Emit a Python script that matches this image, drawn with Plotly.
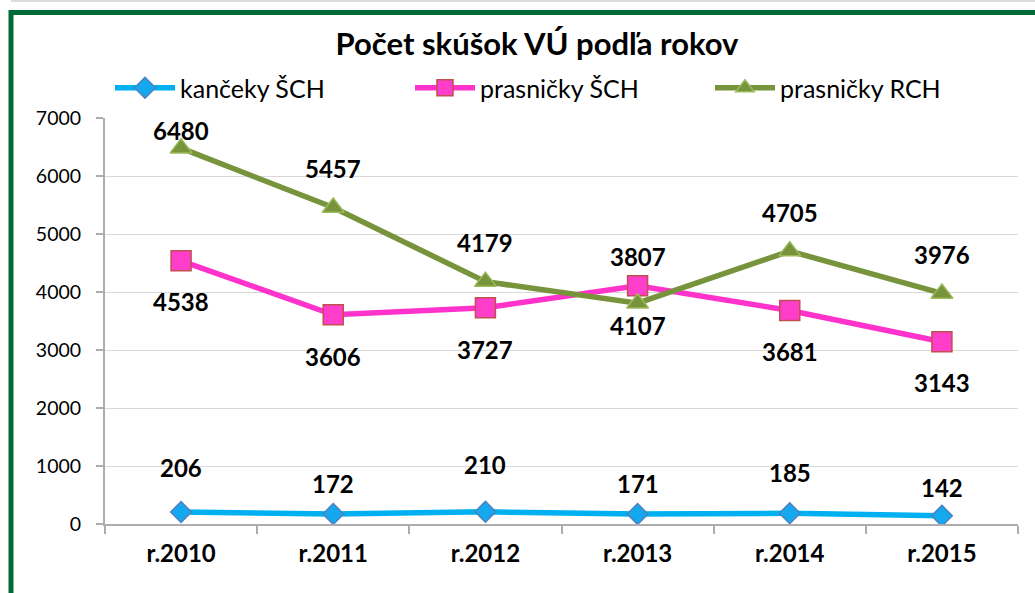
import plotly.graph_objects as go

# ---- data ----
categories = ["r.2010", "r.2011", "r.2012", "r.2013", "r.2014", "r.2015"]
kanceky_sch = [206, 172, 210, 171, 185, 142]
prasnicky_sch = [4538, 3606, 3727, 4107, 3681, 3143]
prasnicky_rch = [6480, 5457, 4179, 3807, 4705, 3976]
series_names = ["kančeky ŠCH", "prasničky ŠCH", "prasničky RCH"]
y_ticks = [0, 1000, 2000, 3000, 4000, 5000, 6000, 7000]
title_text = "Počet skúšok VÚ podľa rokov"

# ---- style ----
W, H = 1035, 593
L, R, T, B = 105, 17, 118, 69
FONT = "Lato"

label_shift_blue = [45, 31, 47, 31, 41, 28]
label_shift_green = [18, 39, 39, 47, 39, 39]
label_shift_pink = [-41, -42, -42, -40, -41, -41]

fig = go.Figure()

fig.add_trace(go.Scatter(
    x=categories, y=kanceky_sch, name=series_names[0], mode="lines+markers",
    line=dict(color="#00B0F0", width=5.5),
    marker=dict(symbol="diamond", size=16, color="#14A8EE",
                line=dict(color="#4F81BD", width=1.5)),
))
fig.add_trace(go.Scatter(
    x=categories, y=prasnicky_sch, name=series_names[1], mode="lines+markers",
    line=dict(color="#FF33CC", width=5.5),
    marker=dict(symbol="square", size=20, color="#FF3DCB",
                line=dict(color="#C0504D", width=1.5)),
))
fig.add_trace(go.Scatter(
    x=categories, y=prasnicky_rch, name=series_names[2], mode="lines+markers",
    line=dict(color="#77933C", width=5.5),
    marker=dict(symbol="triangle-up", size=19, color="#77933C",
                line=dict(color="#9BBB59", width=1.5)),
))

annotations = []
for vals, shifts in ((kanceky_sch, label_shift_blue),
                     (prasnicky_rch, label_shift_green),
                     (prasnicky_sch, label_shift_pink)):
    for c, v, s in zip(categories, vals, shifts):
        annotations.append(dict(
            x=c, y=v, xref="x", yref="y", text=f"<b>{v}</b>", showarrow=False,
            yshift=s, xanchor="center", yanchor="middle",
            font=dict(family=FONT, size=24, color="#000000"),
        ))

# frame (paper coordinates computed from pixels)
pw, ph = W - L - R, H - T - B
def px_x(p):
    return (p - L) / pw
def px_y(p):
    return (H - B - p) / ph

shapes = [
    dict(type="line", xref="paper", yref="paper",
         x0=px_x(11), x1=px_x(1045), y0=px_y(1), y1=px_y(1),
         line=dict(color="#D0D0D0", width=1.5)),
    dict(type="line", xref="paper", yref="paper",
         x0=px_x(11), x1=px_x(1045), y0=px_y(12.5), y1=px_y(12.5),
         line=dict(color="#006B37", width=5)),
    dict(type="line", xref="paper", yref="paper",
         x0=px_x(11), x1=px_x(11), y0=px_y(10), y1=px_y(600),
         line=dict(color="#006B37", width=5)),
]

fig.update_layout(
    width=W, height=H,
    margin=dict(l=L, r=R, t=T, b=B, autoexpand=False),
    paper_bgcolor="white", plot_bgcolor="white",
    font=dict(family=FONT, color="#000000"),
    title=dict(text=f"<b>{title_text}</b>", x=537 / W, xanchor="center",
               y=1 - 44 / H, yanchor="middle",
               font=dict(family=FONT, size=31, color="#000000")),
    showlegend=True,
    legend=dict(orientation="h", x=px_x(110), xanchor="left",
                y=px_y(88), yanchor="middle",
                font=dict(family=FONT, size=25, color="#000000"),
                entrywidth=225, entrywidthmode="pixels",
                itemwidth=60, bgcolor="rgba(0,0,0,0)", tracegroupgap=0),
    annotations=annotations,
    shapes=shapes,
    hovermode=False,
)

fig.update_xaxes(
    type="category", showgrid=False, showline=True, linecolor="#ADADAD",
    linewidth=2, ticks="outside", tickson="boundaries", ticklen=8,
    tickcolor="#ADADAD", tickwidth=2, automargin=False,
    tickfont=dict(family=FONT, size=24, color="#000000", weight="bold"),
    ticklabelstandoff=7, range=[-0.5, 5.5],
)
fig.update_yaxes(
    range=[0, 7000], tickvals=y_ticks, showgrid=True, gridcolor="#D9D9D9",
    gridwidth=1, showline=True, linecolor="#ADADAD", linewidth=2,
    ticks="outside", ticklen=7, tickcolor="#ADADAD", tickwidth=2,
    tickfont=dict(family=FONT, size=19.5, color="#000000"),
    ticklabelstandoff=11, zeroline=False, automargin=False,
)

fig.write_html(
    "out.html",
    config={"displayModeBar": False},
    post_script="document.body.style.margin='0';document.body.style.overflow='hidden';",
)
